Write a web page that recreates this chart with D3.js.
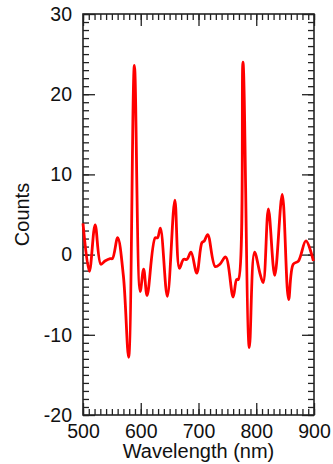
<!DOCTYPE html>
<html>
<head>
<meta charset="utf-8">
<script src="https://cdn.jsdelivr.net/npm/d3@7"></script>
<style>
  body { margin: 0; background: #fff; }
  svg text { font-family: "Liberation Sans", Arial, sans-serif; }
</style>
</head>
<body>
<div id="chart"></div>
<script>
// spectrum
var wavelength = [500, 511, 521, 531, 538, 547, 551, 560, 570, 579, 589, 599, 605, 611, 625, 629, 634, 646, 659, 667, 674, 680, 687, 697, 706, 710, 716, 729, 737, 747, 760, 766, 769, 777, 788, 797, 807, 812, 821, 832, 845, 856, 864, 873, 886, 899];
var counts = [3.9, -2.1, 3.7, -1.2, -0.8, -0.5, -0.5, 2.1, -2.7, -12.8, 23.6, -4.6, -1.8, -5.1, 2.1, 2.1, 3.3, -5.2, 6.8, -1.7, -0.6, -0.6, 0.3, -2.3, 1.5, 1.7, 2.5, -1.5, -1.2, -0.3, -5.3, -3.1, -3.1, 24.0, -11.6, 0.3, -2.5, -3.5, 5.7, -2.6, 7.5, -5.6, -1.2, -0.8, 1.7, -0.8];
var xTicks = [500, 600, 700, 800, 900];
var yTicks = [-20, -10, 0, 10, 20, 30];

var width = 333, height = 464,
  margin = { top: 14, right: 19, bottom: 49, left: 83 };
var w = width - margin.left - margin.right,
  h = height - margin.top - margin.bottom;

var svg = d3.select("#chart").append("svg")
  .attr("width", width)
  .attr("height", height)
  .append("g")
  .attr("transform", "translate(" + margin.left + "," + margin.top + ")");

var x = d3.scaleLinear().domain([500, 900]).range([0, w]);
var y = d3.scaleLinear().domain([-20, 30]).range([h, 0]);

var minorX = d3.range(500, 901, 10);
var minorY = d3.range(-20, 31, 1);

// plain hyphen for negatives, like the original
var fmt = function (d) { return String(d); };

function styleAxis(g) {
  g.select(".domain").remove();
  g.selectAll(".tick line").attr("stroke", "#222").attr("stroke-width", 1.3);
  g.selectAll(".tick text").attr("font-size", 19.5).attr("fill", "#111");
}

// minor ticks, all four sides, pointing in
svg.append("g").attr("transform", "translate(0," + h + ")")
  .call(d3.axisBottom(x).tickValues(minorX).tickSize(-6).tickFormat(""))
  .call(styleAxis);
svg.append("g")
  .call(d3.axisTop(x).tickValues(minorX).tickSize(-6).tickFormat(""))
  .call(styleAxis);
svg.append("g")
  .call(d3.axisLeft(y).tickValues(minorY).tickSize(-6).tickFormat(""))
  .call(styleAxis);
svg.append("g").attr("transform", "translate(" + w + ",0)")
  .call(d3.axisRight(y).tickValues(minorY).tickSize(-6).tickFormat(""))
  .call(styleAxis);

// major ticks with labels
svg.append("g").attr("transform", "translate(0," + h + ")")
  .call(d3.axisBottom(x).tickValues(xTicks).tickSizeInner(-12).tickPadding(9).tickFormat(fmt))
  .call(styleAxis);
svg.append("g")
  .call(d3.axisTop(x).tickValues(xTicks).tickSize(-12).tickFormat(""))
  .call(styleAxis);
svg.append("g")
  .call(d3.axisLeft(y).tickValues(yTicks).tickSizeInner(-12).tickPadding(11).tickFormat(fmt))
  .call(styleAxis);
svg.append("g").attr("transform", "translate(" + w + ",0)")
  .call(d3.axisRight(y).tickValues(yTicks).tickSize(-12).tickFormat(""))
  .call(styleAxis);

// frame
svg.append("rect")
  .attr("width", w)
  .attr("height", h)
  .style("fill", "none")
  .style("stroke", "#222")
  .style("stroke-width", 1.6);

var data = wavelength.map(function (d, i) { return { w: d, c: counts[i] }; });

var line = d3.line()
  .curve(d3.curveCatmullRom.alpha(0.5))
  .x(function (d) { return x(d.w); })
  .y(function (d) { return y(d.c); });

svg.append("path")
  .datum(data)
  .attr("d", line)
  .style("fill", "none")
  .style("stroke", "#ff0000")
  .style("stroke-width", 2.8)
  .style("stroke-linejoin", "round");

svg.append("text")
  .attr("x", w / 2)
  .attr("y", h + 43)
  .attr("text-anchor", "middle")
  .attr("font-size", 20)
  .attr("fill", "#111")
  .text("Wavelength (nm)");

svg.append("text")
  .attr("transform", "translate(" + (-54) + "," + (h / 2) + ") rotate(-90)")
  .attr("text-anchor", "middle")
  .attr("font-size", 20)
  .attr("fill", "#111")
  .text("Counts");
</script>
</body>
</html>
